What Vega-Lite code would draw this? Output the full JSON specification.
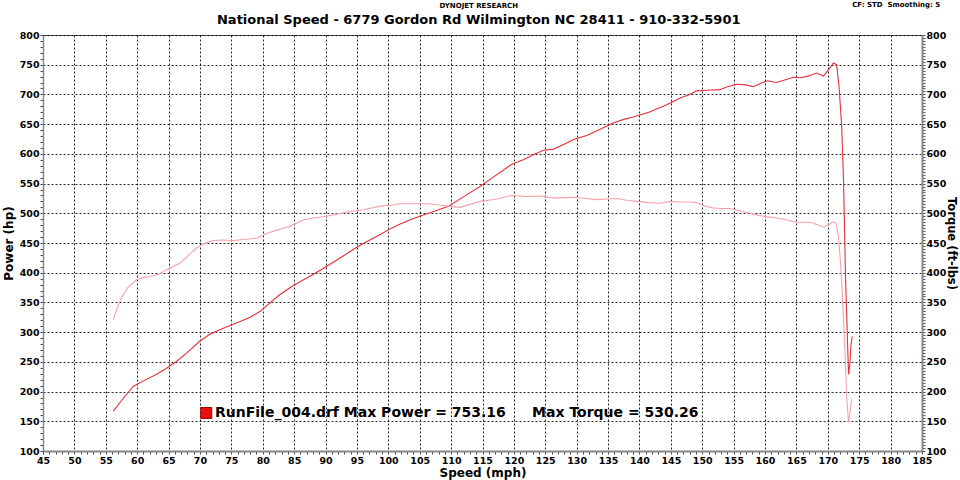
{
  "$schema": "https://vega.github.io/schema/vega-lite/v6.json",
  "width": 879,
  "height": 416,
  "autosize": {"type": "none"},
  "padding": {"left": 43, "top": 35, "right": 38, "bottom": 29},
  "background": "white",
  "config": {
    "view": {"stroke": "#555", "strokeWidth": 1}
  },
  "datasets": {
    "dyno": [
      {"series": "Power", "speed": 56.2, "value": 167},
      {"series": "Power", "speed": 57.5, "value": 185},
      {"series": "Power", "speed": 59.4, "value": 209},
      {"series": "Power", "speed": 61.0, "value": 218},
      {"series": "Power", "speed": 63.1, "value": 229},
      {"series": "Power", "speed": 64.5, "value": 238},
      {"series": "Power", "speed": 66.3, "value": 251},
      {"series": "Power", "speed": 68.0, "value": 266},
      {"series": "Power", "speed": 70.0, "value": 285},
      {"series": "Power", "speed": 71.5, "value": 296},
      {"series": "Power", "speed": 72.7, "value": 302},
      {"series": "Power", "speed": 74.5, "value": 310},
      {"series": "Power", "speed": 76.4, "value": 318},
      {"series": "Power", "speed": 78.0, "value": 325},
      {"series": "Power", "speed": 79.6, "value": 335},
      {"series": "Power", "speed": 81.0, "value": 348},
      {"series": "Power", "speed": 82.7, "value": 363},
      {"series": "Power", "speed": 84.5, "value": 376},
      {"series": "Power", "speed": 86.5, "value": 388},
      {"series": "Power", "speed": 88.5, "value": 400},
      {"series": "Power", "speed": 90.2, "value": 411},
      {"series": "Power", "speed": 92.5, "value": 426},
      {"series": "Power", "speed": 94.4, "value": 439},
      {"series": "Power", "speed": 96.0, "value": 449},
      {"series": "Power", "speed": 97.6, "value": 458},
      {"series": "Power", "speed": 99.0, "value": 466},
      {"series": "Power", "speed": 100.5, "value": 475},
      {"series": "Power", "speed": 101.9, "value": 482},
      {"series": "Power", "speed": 103.5, "value": 489},
      {"series": "Power", "speed": 105.0, "value": 495},
      {"series": "Power", "speed": 107.0, "value": 502},
      {"series": "Power", "speed": 109.6, "value": 512},
      {"series": "Power", "speed": 112.0, "value": 528},
      {"series": "Power", "speed": 114.6, "value": 545},
      {"series": "Power", "speed": 117.0, "value": 563},
      {"series": "Power", "speed": 119.6, "value": 582},
      {"series": "Power", "speed": 121.5, "value": 590},
      {"series": "Power", "speed": 123.0, "value": 598},
      {"series": "Power", "speed": 124.7, "value": 606},
      {"series": "Power", "speed": 126.3, "value": 608},
      {"series": "Power", "speed": 128.0, "value": 616},
      {"series": "Power", "speed": 129.5, "value": 624},
      {"series": "Power", "speed": 131.6, "value": 631},
      {"series": "Power", "speed": 133.5, "value": 640},
      {"series": "Power", "speed": 135.8, "value": 652},
      {"series": "Power", "speed": 137.5, "value": 658},
      {"series": "Power", "speed": 139.0, "value": 662},
      {"series": "Power", "speed": 141.5, "value": 670},
      {"series": "Power", "speed": 143.8, "value": 680},
      {"series": "Power", "speed": 145.0, "value": 686},
      {"series": "Power", "speed": 146.5, "value": 694},
      {"series": "Power", "speed": 148.0, "value": 700},
      {"series": "Power", "speed": 149.1, "value": 706},
      {"series": "Power", "speed": 151.0, "value": 707},
      {"series": "Power", "speed": 152.8, "value": 708},
      {"series": "Power", "speed": 154.0, "value": 713},
      {"series": "Power", "speed": 155.5, "value": 717},
      {"series": "Power", "speed": 157.0, "value": 716},
      {"series": "Power", "speed": 158.1, "value": 713},
      {"series": "Power", "speed": 159.2, "value": 718},
      {"series": "Power", "speed": 160.3, "value": 723},
      {"series": "Power", "speed": 161.8, "value": 720},
      {"series": "Power", "speed": 163.0, "value": 724},
      {"series": "Power", "speed": 164.5, "value": 729},
      {"series": "Power", "speed": 165.5, "value": 728},
      {"series": "Power", "speed": 166.6, "value": 730},
      {"series": "Power", "speed": 167.5, "value": 733},
      {"series": "Power", "speed": 168.2, "value": 736},
      {"series": "Power", "speed": 169.3, "value": 731},
      {"series": "Power", "speed": 170.0, "value": 740},
      {"series": "Power", "speed": 170.9, "value": 753},
      {"series": "Power", "speed": 171.4, "value": 750},
      {"series": "Power", "speed": 171.8, "value": 712},
      {"series": "Power", "speed": 172.2, "value": 648},
      {"series": "Power", "speed": 172.5, "value": 556},
      {"series": "Power", "speed": 172.7, "value": 456},
      {"series": "Power", "speed": 172.8, "value": 400},
      {"series": "Power", "speed": 173.0, "value": 330},
      {"series": "Power", "speed": 173.3, "value": 229},
      {"series": "Power", "speed": 173.5, "value": 245},
      {"series": "Power", "speed": 173.7, "value": 280},
      {"series": "Power", "speed": 173.9, "value": 293},
      {"series": "Torque", "speed": 56.2, "value": 321},
      {"series": "Torque", "speed": 56.8, "value": 340},
      {"series": "Torque", "speed": 57.5, "value": 358},
      {"series": "Torque", "speed": 58.5, "value": 375},
      {"series": "Torque", "speed": 59.9, "value": 388},
      {"series": "Torque", "speed": 61.0, "value": 392},
      {"series": "Torque", "speed": 62.6, "value": 395},
      {"series": "Torque", "speed": 63.5, "value": 398},
      {"series": "Torque", "speed": 64.7, "value": 405},
      {"series": "Torque", "speed": 66.8, "value": 416},
      {"series": "Torque", "speed": 68.0, "value": 428},
      {"series": "Torque", "speed": 69.5, "value": 442},
      {"series": "Torque", "speed": 70.8, "value": 450},
      {"series": "Torque", "speed": 72.1, "value": 454},
      {"series": "Torque", "speed": 73.5, "value": 455},
      {"series": "Torque", "speed": 75.3, "value": 454},
      {"series": "Torque", "speed": 77.0, "value": 456},
      {"series": "Torque", "speed": 79.0, "value": 458},
      {"series": "Torque", "speed": 80.5, "value": 465},
      {"series": "Torque", "speed": 81.7, "value": 470},
      {"series": "Torque", "speed": 83.0, "value": 474},
      {"series": "Torque", "speed": 84.3, "value": 478},
      {"series": "Torque", "speed": 86.5, "value": 489},
      {"series": "Torque", "speed": 88.0, "value": 492},
      {"series": "Torque", "speed": 90.2, "value": 495},
      {"series": "Torque", "speed": 91.5, "value": 498},
      {"series": "Torque", "speed": 93.4, "value": 502},
      {"series": "Torque", "speed": 96.0, "value": 506},
      {"series": "Torque", "speed": 98.7, "value": 512},
      {"series": "Torque", "speed": 100.5, "value": 514},
      {"series": "Torque", "speed": 101.9, "value": 516},
      {"series": "Torque", "speed": 104.0, "value": 516},
      {"series": "Torque", "speed": 106.6, "value": 516},
      {"series": "Torque", "speed": 108.0, "value": 514},
      {"series": "Torque", "speed": 109.6, "value": 512},
      {"series": "Torque", "speed": 111.4, "value": 510},
      {"series": "Torque", "speed": 113.0, "value": 515},
      {"series": "Torque", "speed": 114.6, "value": 520},
      {"series": "Torque", "speed": 116.0, "value": 522},
      {"series": "Torque", "speed": 117.3, "value": 524},
      {"series": "Torque", "speed": 118.5, "value": 527},
      {"series": "Torque", "speed": 119.6, "value": 530},
      {"series": "Torque", "speed": 121.0, "value": 529},
      {"series": "Torque", "speed": 122.0, "value": 528},
      {"series": "Torque", "speed": 124.2, "value": 529},
      {"series": "Torque", "speed": 125.5, "value": 527},
      {"series": "Torque", "speed": 126.3, "value": 526},
      {"series": "Torque", "speed": 128.0, "value": 526},
      {"series": "Torque", "speed": 129.5, "value": 527},
      {"series": "Torque", "speed": 131.5, "value": 525},
      {"series": "Torque", "speed": 133.2, "value": 523},
      {"series": "Torque", "speed": 135.0, "value": 524},
      {"series": "Torque", "speed": 136.4, "value": 525},
      {"series": "Torque", "speed": 138.0, "value": 522},
      {"series": "Torque", "speed": 139.6, "value": 520},
      {"series": "Torque", "speed": 141.5, "value": 518},
      {"series": "Torque", "speed": 143.3, "value": 517},
      {"series": "Torque", "speed": 144.9, "value": 520},
      {"series": "Torque", "speed": 146.5, "value": 519},
      {"series": "Torque", "speed": 148.0, "value": 519},
      {"series": "Torque", "speed": 149.1, "value": 518},
      {"series": "Torque", "speed": 150.5, "value": 512},
      {"series": "Torque", "speed": 151.8, "value": 509},
      {"series": "Torque", "speed": 153.0, "value": 508},
      {"series": "Torque", "speed": 154.4, "value": 508},
      {"series": "Torque", "speed": 156.5, "value": 503},
      {"series": "Torque", "speed": 158.0, "value": 499},
      {"series": "Torque", "speed": 159.2, "value": 496},
      {"series": "Torque", "speed": 160.5, "value": 494},
      {"series": "Torque", "speed": 161.8, "value": 492},
      {"series": "Torque", "speed": 163.0, "value": 490},
      {"series": "Torque", "speed": 164.5, "value": 486},
      {"series": "Torque", "speed": 165.5, "value": 485},
      {"series": "Torque", "speed": 166.6, "value": 485},
      {"series": "Torque", "speed": 167.5, "value": 484},
      {"series": "Torque", "speed": 168.5, "value": 480},
      {"series": "Torque", "speed": 169.3, "value": 477},
      {"series": "Torque", "speed": 170.2, "value": 481},
      {"series": "Torque", "speed": 170.9, "value": 486},
      {"series": "Torque", "speed": 171.3, "value": 483},
      {"series": "Torque", "speed": 171.7, "value": 461},
      {"series": "Torque", "speed": 172.0, "value": 420},
      {"series": "Torque", "speed": 172.2, "value": 388},
      {"series": "Torque", "speed": 172.5, "value": 320},
      {"series": "Torque", "speed": 172.7, "value": 276},
      {"series": "Torque", "speed": 173.0, "value": 192},
      {"series": "Torque", "speed": 173.3, "value": 148},
      {"series": "Torque", "speed": 173.5, "value": 162},
      {"series": "Torque", "speed": 173.8, "value": 187}
    ]
  },
  "layer": [
    {
      "data": {"name": "dyno"},
      "transform": [{"filter": "datum.series === 'Power'"}],
      "mark": {"type": "line", "color": "#e3303b", "strokeWidth": 1.1},
      "encoding": {
        "x": {
          "field": "speed", "type": "quantitative",
          "scale": {"domain": [45, 185], "nice": false, "zero": false},
          "axis": {
            "orient": "bottom",
            "values": [45,46,47,48,49,50,51,52,53,54,55,56,57,58,59,60,61,62,63,64,65,66,67,68,69,70,71,72,73,74,75,76,77,78,79,80,81,82,83,84,85,86,87,88,89,90,91,92,93,94,95,96,97,98,99,100,101,102,103,104,105,106,107,108,109,110,111,112,113,114,115,116,117,118,119,120,121,122,123,124,125,126,127,128,129,130,131,132,133,134,135,136,137,138,139,140,141,142,143,144,145,146,147,148,149,150,151,152,153,154,155,156,157,158,159,160,161,162,163,164,165,166,167,168,169,170,171,172,173,174,175,176,177,178,179,180,181,182,183,184,185],
            "labelExpr": "datum.value % 5 === 0 ? datum.label : ''",
            "labelOverlap": false,
            "labelFlush": false,
            "labelFont": "DejaVu Sans",
            "labelFontSize": 9.5,
            "labelFontWeight": "bold",
            "labelColor": "#000",
            "labelPadding": 1,
            "tickSize": 3,
            "tickColor": "#444",
            "domainColor": "#888",
            "domainWidth": 2,
            "grid": true,
            "gridColor": "#000",
            "gridDash": [2, 2],
            "gridOpacity": {"condition": {"test": "datum.value % 5 === 0", "value": 0.85}, "value": 0},
            "title": "Speed (mph)",
            "titleFont": "DejaVu Sans",
            "titleFontSize": 12,
            "titleFontWeight": "bold",
            "titleColor": "#000",
            "titlePadding": 3
          }
        },
        "y": {
          "field": "value", "type": "quantitative",
          "scale": {"domain": [100, 800], "nice": false, "zero": false},
          "axis": {
            "orient": "left",
            "values": [100,110,120,130,140,150,160,170,180,190,200,210,220,230,240,250,260,270,280,290,300,310,320,330,340,350,360,370,380,390,400,410,420,430,440,450,460,470,480,490,500,510,520,530,540,550,560,570,580,590,600,610,620,630,640,650,660,670,680,690,700,710,720,730,740,750,760,770,780,790,800],
            "labelExpr": "datum.value % 50 === 0 ? datum.label : ''",
            "labelOverlap": false,
            "labelFlush": false,
            "labelFont": "DejaVu Sans",
            "labelFontSize": 9.5,
            "labelFontWeight": "bold",
            "labelColor": "#000",
            "labelPadding": 1,
            "tickSize": 3,
            "tickColor": "#444",
            "domainColor": "#888",
            "domainWidth": 1.5,
            "grid": true,
            "gridColor": "#000",
            "gridDash": [2, 2],
            "gridOpacity": {"condition": {"test": "datum.value % 50 === 0", "value": 0.85}, "value": 0},
            "title": "Power (hp)",
            "titleFont": "DejaVu Sans",
            "titleFontSize": 12,
            "titleFontWeight": "bold",
            "titleColor": "#000",
            "titlePadding": 4
          }
        }
      }
    },
    {
      "data": {"name": "dyno"},
      "transform": [{"filter": "datum.series === 'Torque'"}],
      "mark": {"type": "line", "color": "#f4a3ab", "strokeWidth": 1.1},
      "encoding": {
        "x": {
          "field": "speed", "type": "quantitative",
          "scale": {"domain": [45, 185], "nice": false, "zero": false},
          "axis": null
        },
        "y": {
          "field": "value", "type": "quantitative",
          "scale": {"domain": [100, 800], "nice": false, "zero": false},
          "axis": {
            "orient": "right",
            "values": [100,105,110,115,120,125,130,135,140,145,150,155,160,165,170,175,180,185,190,195,200,205,210,215,220,225,230,235,240,245,250,255,260,265,270,275,280,285,290,295,300,305,310,315,320,325,330,335,340,345,350,355,360,365,370,375,380,385,390,395,400,405,410,415,420,425,430,435,440,445,450,455,460,465,470,475,480,485,490,495,500,505,510,515,520,525,530,535,540,545,550,555,560,565,570,575,580,585,590,595,600,605,610,615,620,625,630,635,640,645,650,655,660,665,670,675,680,685,690,695,700,705,710,715,720,725,730,735,740,745,750,755,760,765,770,775,780,785,790,795,800],
            "labelExpr": "datum.value % 50 === 0 ? datum.label : ''",
            "labelOverlap": false,
            "labelFlush": false,
            "labelFont": "DejaVu Sans",
            "labelFontSize": 9.5,
            "labelFontWeight": "bold",
            "labelColor": "#000",
            "labelPadding": 1,
            "tickSize": 3,
            "tickColor": "#555",
            "domainColor": "#888",
            "domainWidth": 2,
            "grid": false,
            "title": "Torque (ft-lbs)",
            "titleFont": "DejaVu Sans",
            "titleFontSize": 11.5,
            "titleFontWeight": "bold",
            "titleColor": "#000",
            "titlePadding": 0
          }
        }
      }
    },
    {
      "data": {"values": [{}]},
      "mark": {"type": "square", "size": 121, "fill": "#e81010", "stroke": "#a00000", "strokeWidth": 1, "opacity": 1},
      "encoding": {
        "x": {"datum": 71.0, "type": "quantitative", "scale": {"domain": [45, 185], "nice": false, "zero": false}, "axis": null},
        "y": {"datum": 164, "type": "quantitative", "scale": {"domain": [100, 800], "nice": false, "zero": false}, "axis": null}
      }
    },
    {
      "data": {"values": [{}]},
      "mark": {"type": "text", "align": "left", "baseline": "middle", "font": "DejaVu Sans", "fontSize": 14, "fontWeight": "bold", "color": "#000"},
      "encoding": {
        "x": {"datum": 72.4, "type": "quantitative", "scale": {"domain": [45, 185], "nice": false, "zero": false}, "axis": null},
        "y": {"datum": 164, "type": "quantitative", "scale": {"domain": [100, 800], "nice": false, "zero": false}, "axis": null},
        "text": {"value": "RunFile_004.drf Max Power = 753.16"}
      }
    },
    {
      "data": {"values": [{}]},
      "mark": {"type": "text", "align": "left", "baseline": "middle", "font": "DejaVu Sans", "fontSize": 14, "fontWeight": "bold", "color": "#000"},
      "encoding": {
        "x": {"datum": 122.9, "type": "quantitative", "scale": {"domain": [45, 185], "nice": false, "zero": false}, "axis": null},
        "y": {"datum": 164, "type": "quantitative", "scale": {"domain": [100, 800], "nice": false, "zero": false}, "axis": null},
        "text": {"value": "Max Torque = 530.26"}
      }
    },
    {
      "data": {"values": [{}]},
      "mark": {"type": "text", "align": "center", "baseline": "middle", "font": "DejaVu Sans", "fontSize": 13, "fontWeight": "bold", "color": "#000"},
      "encoding": {
        "x": {"datum": 114.4, "type": "quantitative", "scale": {"domain": [45, 185], "nice": false, "zero": false}, "axis": null},
        "y": {"datum": 825, "type": "quantitative", "scale": {"domain": [100, 800], "nice": false, "zero": false}, "axis": null},
        "text": {"value": "National Speed - 6779 Gordon Rd Wilmington NC 28411 - 910-332-5901"}
      }
    },
    {
      "data": {"values": [{}]},
      "mark": {"type": "text", "align": "center", "baseline": "middle", "font": "DejaVu Sans", "fontSize": 7, "fontWeight": "bold", "color": "#000"},
      "encoding": {
        "x": {"datum": 114.4, "type": "quantitative", "scale": {"domain": [45, 185], "nice": false, "zero": false}, "axis": null},
        "y": {"datum": 849, "type": "quantitative", "scale": {"domain": [100, 800], "nice": false, "zero": false}, "axis": null},
        "text": {"value": "DYNOJET RESEARCH"}
      }
    },
    {
      "data": {"values": [{}]},
      "mark": {"type": "text", "align": "right", "baseline": "middle", "font": "DejaVu Sans", "fontSize": 7, "fontWeight": "bold", "color": "#000"},
      "encoding": {
        "x": {"datum": 187.9, "type": "quantitative", "scale": {"domain": [45, 185], "nice": false, "zero": false}, "axis": null},
        "y": {"datum": 850, "type": "quantitative", "scale": {"domain": [100, 800], "nice": false, "zero": false}, "axis": null},
        "text": {"value": "CF: STD\u00a0 Smoothing: 5"}
      }
    }
  ],
  "resolve": {
    "scale": {"x": "shared", "y": "shared"},
    "axis": {"x": "independent", "y": "independent"}
  }
}
